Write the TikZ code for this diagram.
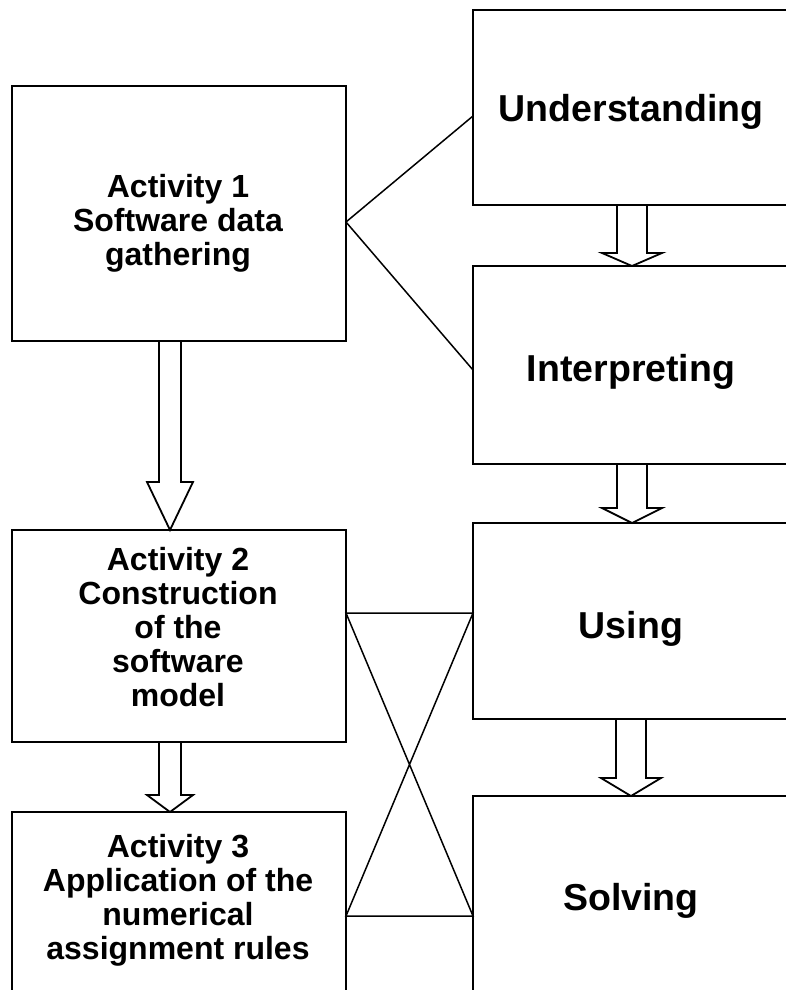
\documentclass[tikz,border=0pt]{standalone}
\usepackage{fontspec}
\setmainfont{Liberation Sans}
\usetikzlibrary{calc}

% Hollow block arrow from the bottom of #1 to the top of #2 at x = #3
% #4 = half shaft width, #5 = half head width, #6 = head length
\newcommand\hollowarrow[6]{%
  \coordinate (ha-s) at (#1.south -| #3,0);
  \coordinate (ha-t) at (#2.north -| #3,0);
  \draw[blockarrow]
    ($(ha-s)+(-#4,0)$) -- ($(ha-t)+(-#4,-#6)$) -- ($(ha-t)+(-#5,-#6)$)
    -- (ha-t) -- ($(ha-t)+(#5,-#6)$) -- ($(ha-t)+(#4,-#6)$)
    -- ($(ha-s)+(#4,0)$);
}

\begin{document}
\begin{tikzpicture}[x=1pt,y=-1pt,
  box/.style={draw, line width=1.8pt, rectangle, inner sep=0pt, outer sep=0pt},
  blockarrow/.style={draw, line width=1.8pt, line join=miter},
  link/.style={draw, line width=1.5pt, line join=miter},
  small/.style={font=\bfseries\fontsize{32}{34}\selectfont, align=center, inner sep=0pt},
  big/.style={font=\bfseries\fontsize{37.5}{40}\selectfont, inner sep=0pt, anchor=base}]

\useasboundingbox (0,0) rectangle (785,990);

% activity boxes (left column)
\node[box, minimum width=334pt, minimum height=255pt] (a1) at (179,213.5) {};
\node[box, minimum width=334pt, minimum height=212pt] (a2) at (179,636) {};
\node[box, minimum width=334pt, minimum height=198pt] (a3) at (179,911) {};

% competence boxes (right column)
\node[box, minimum width=315pt, minimum height=195pt] (u) at (630.5,107.5) {};
\node[box, minimum width=315pt, minimum height=198pt] (i) at (630.5,365) {};
\node[box, minimum width=315pt, minimum height=196pt] (us) at (630.5,621) {};
\node[box, minimum width=315pt, minimum height=214pt] (s) at (630.5,903) {};

% labels
\node[small] (a1t) at (178,223) {Activity 1\\Software data\\gathering};
\node[small] (a2t) at (178,627) {Activity 2\\Construction\\of the\\software\\model};
\node[small] (a3t) at (178,900) {Activity 3\\Application of the\\numerical\\assignment rules};
\node[big] (ut) at (631,121) {Understanding};
\node[big] (it) at (631,381) {Interpreting};
\node[big] (ust) at (631,638) {Using};
\node[big] (st) at (631,910) {Solving};

% flow arrows
\hollowarrow{u}{i}{632}{15}{30}{13}
\hollowarrow{i}{us}{632}{15}{30}{15}
\hollowarrow{us}{s}{631}{15}{30}{18}
\hollowarrow{a1}{a2}{170}{11}{23}{48}
\hollowarrow{a2}{a3}{170}{11}{23}{17}

% links between the columns
\coordinate (v1) at ($(a1.north east)+(0,136)$);
\coordinate (uw) at ($(u.north west)+(0,106)$);
\coordinate (iw) at ($(i.north west)+(0,104)$);
\draw[link] (uw) -- (v1) -- (iw);

\coordinate (p1) at ($(a2.north east)+(0,83)$);
\coordinate (p2) at ($(us.north west)+(0,90)$);
\coordinate (p3) at ($(a3.north east)+(0,104)$);
\coordinate (p4) at ($(s.north west)+(0,120)$);
\draw[link] (p1) -- (p2) -- (p3) -- (p4) -- cycle;

\end{tikzpicture}
\end{document}
